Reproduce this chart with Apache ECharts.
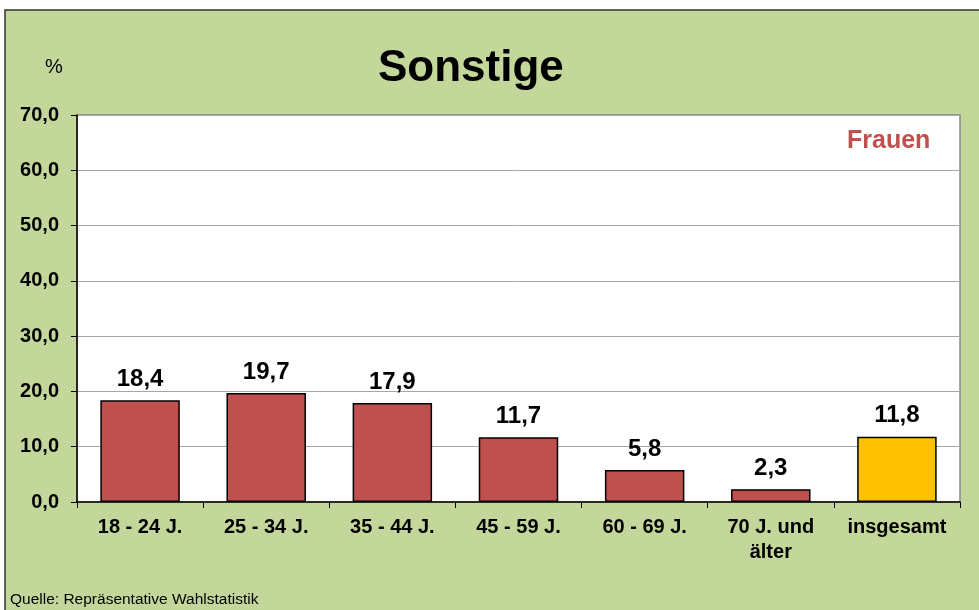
<!DOCTYPE html>
<html>
<head>
<meta charset="utf-8">
<script src="https://cdn.jsdelivr.net/npm/echarts@6/dist/echarts.min.js"></script>
<style>
  html, body { margin: 0; padding: 0; background: #fff; }
  #chart { width: 979px; height: 610px; }
</style>
</head>
<body>
<div id="chart"></div>
<script>
// data
const categories = ['18 - 24 J.', '25 - 34 J.', '35 - 44 J.', '45 - 59 J.', '60 - 69 J.', '70 J. und\nälter', 'insgesamt']
const values = [18.4, 19.7, 17.9, 11.7, 5.8, 2.3, 11.8]
const yTicks = [0, 10, 20, 30, 40, 50, 60, 70]

const font = '"Liberation Sans", Arial, sans-serif'
const fmt = v => v.toFixed(1).replace('.', ',')

const chart = echarts.init(document.getElementById('chart'))
const option = {
  backgroundColor: '#fff',
  animation: false,
  textStyle: { fontFamily: font },
  graphic: [
    {
      type: 'rect',
      z: -10,
      shape: { x: 5, y: 10, width: 1000, height: 700 },
      style: { fill: '#c4d79b', stroke: '#333', lineWidth: 1.5 }
    },
    {
      type: 'text',
      left: 378, top: 47,
      style: { text: 'Sonstige', font: 'bold 44px ' + font, fill: '#000' }
    },
    {
      type: 'text',
      left: 45, top: 57,
      style: { text: '%', font: '20px ' + font, fill: '#000' }
    },
    {
      type: 'text',
      left: 847, top: 129,
      style: { text: 'Frauen', font: 'bold 25px ' + font, fill: '#c0504d' }
    },
    {
      type: 'text',
      left: 10, top: 592,
      style: { text: 'Quelle: Repräsentative Wahlstatistik', font: '15.5px ' + font, fill: '#000' }
    }
  ],
  grid: {
    left: 77, right: 19, top: 115, bottom: 108,
    show: true, backgroundColor: '#fff', borderColor: '#888', borderWidth: 1.5
  },
  xAxis: {
    type: 'category',
    data: categories,
    axisLine: { lineStyle: { color: '#000', width: 1.5 } },
    axisTick: { show: true, length: 6, lineStyle: { color: '#000' } },
    axisLabel: {
      color: '#000', fontWeight: 'bold', fontSize: 20, fontFamily: font,
      margin: 13, lineHeight: 25, interval: 0
    }
  },
  yAxis: {
    type: 'value',
    min: yTicks[0], max: yTicks[yTicks.length - 1], interval: 10,
    axisLine: { show: true, lineStyle: { color: '#000', width: 1.5 } },
    axisTick: { show: true, length: 6, lineStyle: { color: '#000' } },
    splitLine: { lineStyle: { color: '#a6a6a6', width: 1 } },
    axisLabel: {
      color: '#000', fontWeight: 'bold', fontSize: 20, fontFamily: font,
      margin: 18, formatter: fmt
    }
  },
  series: [{
    type: 'bar',
    barWidth: '63%',
    data: values.map((v, i) => ({
      value: v,
      itemStyle: { color: i === values.length - 1 ? '#ffc000' : '#c0504d' }
    })),
    itemStyle: { borderColor: '#000', borderWidth: 1.5 },
    label: {
      show: true, position: 'top', distance: 9,
      color: '#000', fontWeight: 'bold', fontSize: 24, fontFamily: font,
      formatter: p => fmt(p.value)
    }
  }]
}
chart.setOption(option)
</script>
</body>
</html>
